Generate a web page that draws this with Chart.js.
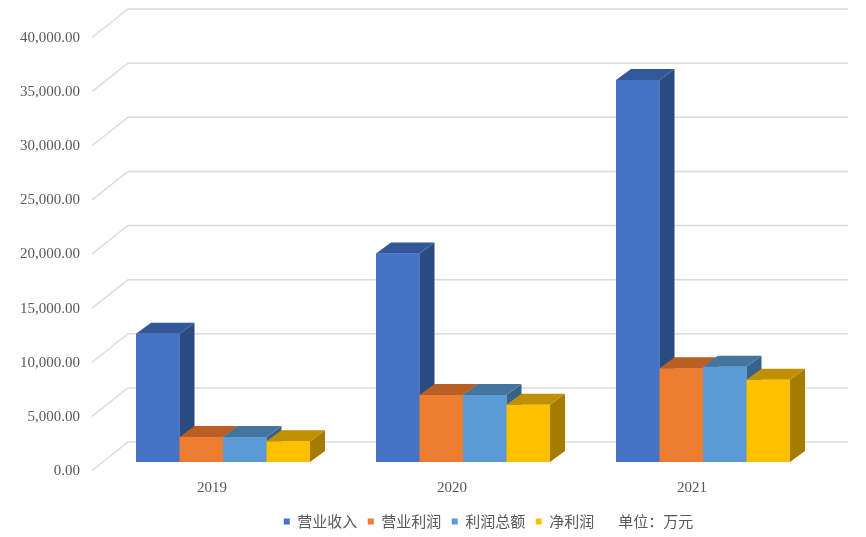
<!DOCTYPE html>
<html>
<head>
<meta charset="utf-8">
<style>
  html, body { margin: 0; padding: 0; background: #fff; overflow: hidden; }
</style>
<script src="https://cdn.jsdelivr.net/npm/chart.js@4"></script>
</head>
<body>
<canvas id="chart" width="866" height="537"></canvas>
<script>
const categories = ['2019', '2020', '2021'];
const revenue = [11850, 19260, 35280];
const operatingProfit = [2310, 6200, 8670];
const totalProfit = [2310, 6200, 8800];
const netProfit = [1920, 5280, 7590];
const unitNote = '单位：万元';

const serifFont = 'Liberation Serif';
const cjkFont = 'Noto Sans CJK SC';
const textColor = '#595959';

// 3D look: [front colour, top colour, side colour]
const shades = [
    ['#4472C4', '#335899', '#2A4A82'],
    ['#ED7D31', '#BA5F24', '#A0511C'],
    ['#5B9BD5', '#44759F', '#386289'],
    ['#FFC000', '#BF9000', '#A67C00']
];
const depthX = 15, depthY = 11;      // bar depth
const wallFrontX = -11, wallFrontY = 8.5; // floor front edge, relative to the bar plane
const wallBackX = 25, wallBackY = -20;    // back wall, relative to the bar plane

function poly(ctx, color, pts) {
    ctx.fillStyle = color;
    ctx.beginPath();
    pts.forEach((p, i) => i ? ctx.lineTo(p[0], p[1]) : ctx.moveTo(p[0], p[1]));
    ctx.closePath();
    ctx.fill();
}

const wallGrid = {
    id: 'wallGrid',
    beforeDatasetsDraw(chart) {
        const { ctx, scales: { x, y } } = chart;
        ctx.save();
        ctx.strokeStyle = '#DCDCDC';
        ctx.lineWidth = 1.5;
        y.ticks.forEach(t => {
            const py = y.getPixelForValue(t.value);
            ctx.beginPath();
            ctx.moveTo(x.left + wallFrontX, py + wallFrontY);
            ctx.lineTo(x.left + wallBackX, py + wallBackY);
            ctx.lineTo(x.right + wallBackX, py + wallBackY);
            ctx.stroke();
        });
        ctx.restore();
    }
};

const bars3d = {
    id: 'bars3d',
    afterDatasetsDraw(chart) {
        const ctx = chart.ctx;
        ctx.save();
        chart.data.datasets.forEach((ds, i) => {
            chart.getDatasetMeta(i).data.forEach(bar => {
                const l = bar.x - bar.width / 2, r = bar.x + bar.width / 2;
                const t = bar.y, b = bar.base;
                poly(ctx, shades[i][2], [[r, t], [r + depthX, t - depthY], [r + depthX, b - depthY], [r, b]]);
                poly(ctx, shades[i][1], [[l, t], [l + depthX, t - depthY], [r + depthX, t - depthY], [r, t]]);
                bar.draw(ctx);
            });
        });
        ctx.restore();
    }
};

// the legend sits right of the page centre in the original
const legendShift = {
    id: 'legendShift',
    afterLayout(chart) {
        chart.legend.left += 154;
        chart.legend.top += 2;
    }
};

new Chart(document.getElementById('chart').getContext('2d'), {
    type: 'bar',
    plugins: [wallGrid, bars3d, legendShift],
    data: {
        labels: categories,
        datasets: [
            { label: '营业收入', data: revenue, backgroundColor: shades[0][0] },
            { label: '营业利润', data: operatingProfit, backgroundColor: shades[1][0] },
            { label: '利润总额', data: totalProfit, backgroundColor: shades[2][0] },
            { label: '净利润', data: netProfit, backgroundColor: shades[3][0] }
        ]
    },
    options: {
        responsive: false,
        animation: false,
        layout: { padding: { top: 29, right: 43, left: 0, bottom: 0 } },
        datasets: { bar: { categoryPercentage: 0.725, barPercentage: 1, borderWidth: 0 } },
        scales: {
            x: {
                grid: { display: false },
                border: { display: false },
                afterFit(scale) { scale.height = 39.5; },
                ticks: {
                    color: textColor,
                    padding: 9.5,
                    labelOffset: -11,
                    font: { family: serifFont, size: 15 }
                }
            },
            y: {
                min: 0,
                max: 40000,
                grid: { display: false },
                border: { display: false },
                afterFit(scale) { scale.width = 103; },
                ticks: {
                    stepSize: 5000,
                    color: textColor,
                    padding: 15,
                    labelOffset: 9,
                    font: { family: serifFont, size: 15 },
                    callback: v => v.toLocaleString('en-US', { minimumFractionDigits: 2, maximumFractionDigits: 2 })
                }
            }
        },
        plugins: {
            tooltip: { enabled: false },
            legend: {
                position: 'bottom',
                labels: {
                    color: textColor,
                    boxWidth: 6,
                    boxHeight: 6,
                    padding: 10.5,
                    font: { family: cjkFont, size: 15 },
                    generateLabels(chart) {
                        const items = Chart.defaults.plugins.legend.labels.generateLabels(chart);
                        items.forEach(it => { it.lineWidth = 0; });
                        items.push({ text: unitNote, fillStyle: 'rgba(0,0,0,0)', strokeStyle: 'rgba(0,0,0,0)', lineWidth: 0, fontColor: textColor });
                        return items;
                    }
                }
            }
        }
    }
});
</script>
</body>
</html>
